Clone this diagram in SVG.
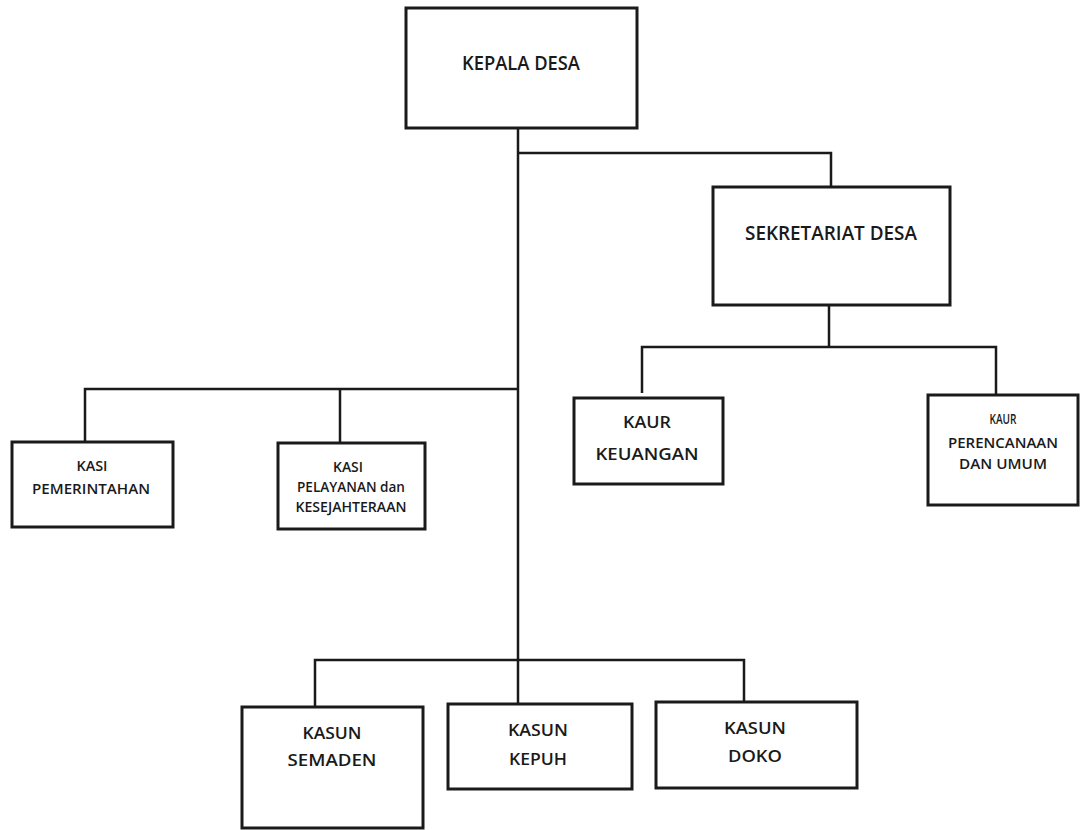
<svg xmlns="http://www.w3.org/2000/svg" width="1080" height="830" viewBox="0 0 1080 830">
<style>
.box{fill:#fff;stroke:#1a1a1a;stroke-width:3}
.ln{fill:none;stroke:#1a1a1a;stroke-width:2.5;stroke-linejoin:miter}
text{font-family:"Open Sans","Liberation Sans",Arial,sans-serif;font-weight:600;fill:#1a1a1a;text-anchor:middle;dominant-baseline:central}
.t20{font-size:19px}
.t16{font-size:17px}
.t13{font-size:13.5px}
</style>
<rect width="1080" height="830" fill="#fff"/>
<g id="connectors">
<polyline class="ln" points="518,128 518,704"/>
<polyline class="ln" points="518,153 831,153 831,188"/>
<polyline class="ln" points="829,305 829,347"/>
<polyline class="ln" points="642,393 642,347 996,347 996,395"/>
<polyline class="ln" points="85,442 85,389 518,389"/>
<polyline class="ln" points="340,389 340,443"/>
<polyline class="ln" points="315,707 315,660 744,660 744,702"/>
</g>
<g id="kepala-desa">
<rect class="box" x="406" y="8" width="231" height="120"/>
<text class="t20" x="521" y="63" textLength="118" lengthAdjust="spacingAndGlyphs">KEPALA DESA</text>
</g>
<g id="sekretariat-desa">
<rect class="box" x="713" y="187" width="237" height="118"/>
<text class="t20" x="831" y="233" textLength="172" lengthAdjust="spacingAndGlyphs">SEKRETARIAT DESA</text>
</g>
<g id="kaur-keuangan">
<rect class="box" x="574" y="398" width="149" height="86"/>
<text class="t16" x="647" y="421" textLength="48" lengthAdjust="spacingAndGlyphs">KAUR</text>
<text class="t16" x="647" y="453" textLength="103" lengthAdjust="spacingAndGlyphs">KEUANGAN</text>
</g>
<g id="kaur-perencanaan">
<rect class="box" x="928" y="395" width="150" height="110"/>
<text class="t13" x="1003" y="419" textLength="27" lengthAdjust="spacingAndGlyphs">KAUR</text>
<text class="t13" x="1003" y="443" textLength="110" lengthAdjust="spacingAndGlyphs">PERENCANAAN</text>
<text class="t13" x="1003" y="464" textLength="88" lengthAdjust="spacingAndGlyphs">DAN UMUM</text>
</g>
<g id="kasi-pemerintahan">
<rect class="box" x="12" y="442" width="161" height="85"/>
<text class="t13" x="92" y="466" textLength="31" lengthAdjust="spacingAndGlyphs">KASI</text>
<text class="t13" x="91" y="489" textLength="118" lengthAdjust="spacingAndGlyphs">PEMERINTAHAN</text>
</g>
<g id="kasi-pelayanan">
<rect class="box" x="278" y="443" width="147" height="86"/>
<text class="t13" x="348" y="467" textLength="30" lengthAdjust="spacingAndGlyphs">KASI</text>
<text class="t13" x="351" y="487" textLength="108" lengthAdjust="spacingAndGlyphs">PELAYANAN dan</text>
<text class="t13" x="351" y="507" textLength="111" lengthAdjust="spacingAndGlyphs">KESEJAHTERAAN</text>
</g>
<g id="kasun-semaden">
<rect class="box" x="242" y="707" width="181" height="121"/>
<text class="t16" x="332" y="732" textLength="59" lengthAdjust="spacingAndGlyphs">KASUN</text>
<text class="t16" x="332" y="759" textLength="89" lengthAdjust="spacingAndGlyphs">SEMADEN</text>
</g>
<g id="kasun-kepuh">
<rect class="box" x="448" y="704" width="184" height="85"/>
<text class="t16" x="538" y="729" textLength="60" lengthAdjust="spacingAndGlyphs">KASUN</text>
<text class="t16" x="538" y="758" textLength="58" lengthAdjust="spacingAndGlyphs">KEPUH</text>
</g>
<g id="kasun-doko">
<rect class="box" x="656" y="702" width="201" height="86"/>
<text class="t16" x="755" y="727" textLength="62" lengthAdjust="spacingAndGlyphs">KASUN</text>
<text class="t16" x="755" y="755" textLength="54" lengthAdjust="spacingAndGlyphs">DOKO</text>
</g>
</svg>
